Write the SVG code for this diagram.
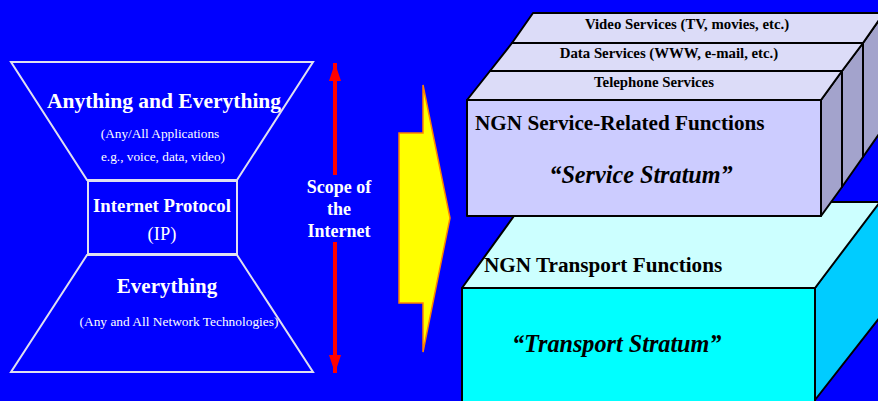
<svg xmlns="http://www.w3.org/2000/svg" width="878" height="401" viewBox="0 0 878 401">
<style>
text{font-family:'Liberation Serif','Times New Roman',Times,serif}
.w{fill:#fff;text-anchor:middle}
.b{font-weight:bold}
.k{fill:#000;font-weight:bold}
.hg{fill:none;stroke:#e0e0f0;stroke-width:2}
.edge{stroke:#000;stroke-width:2;stroke-linejoin:round}
</style>
<defs>
<marker id="rh" viewBox="0 0 18 12" refX="18" refY="6" markerWidth="18" markerHeight="12" markerUnits="userSpaceOnUse" orient="auto"><path d="M0,0 L18,6 L0,12 Z" fill="#ff0000"/></marker>
</defs>
<rect width="878" height="401" fill="#0000ff"/>
<g id="hourglass">
<path class="hg" d="M11,62 L313,62 L237,180 L87,180 Z"/>
<rect class="hg" x="88" y="181" width="149" height="73"/>
<path class="hg" d="M87,255 L237,255 L313,372 L11,372 Z"/>
<text class="w b" x="164" y="108" font-size="21.5">Anything and Everything</text>
<text class="w" x="160" y="138" font-size="13.3">(Any/All Applications</text>
<text class="w" x="163" y="161" font-size="13.3">e.g., voice, data, video)</text>
<text class="w b" x="162" y="212" font-size="18.8">Internet Protocol</text>
<text class="w" x="162" y="240" font-size="18.5">(IP)</text>
<text class="w b" x="167" y="293" font-size="21">Everything</text>
<text class="w" x="179" y="326" font-size="13.4">(Any and All Network Technologies)</text>
</g>
<g id="connectors">
<line x1="335" y1="175" x2="335" y2="63" stroke="#ff0000" stroke-width="4" marker-end="url(#rh)"/>
<line x1="335" y1="242" x2="335" y2="373" stroke="#ff0000" stroke-width="4" marker-end="url(#rh)"/>
<path d="M399,133 L423,133 L423,85 L450,218 L423,352 L423,303 L399,303 Z" fill="#ffff00" stroke="#ff8000" stroke-width="1.5"/>
</g>
<g id="scope">
<text class="w b" x="339" y="193" font-size="18">Scope of</text>
<text class="w b" x="339" y="215" font-size="18">the</text>
<text class="w b" x="339" y="237" font-size="18">Internet</text>
</g>
<g id="transport">
<path class="edge" d="M815,288 L877,202 L880,202 L880,317 L815,400 Z" fill="#00ccff"/>
<path class="edge" d="M462,288 L524,202 L880,202 L815,288 Z" fill="#ccffff"/>
<rect class="edge" x="462" y="288" width="353" height="114" fill="#00ffff"/>
<text class="k" x="484" y="272" font-size="21.2">NGN Transport Functions</text>
<text class="k" x="512" y="352" font-size="24.2" font-style="italic">“Transport Stratum”</text>
</g>
<g id="video">
<path class="edge" d="M863,43 L884,13 L884,127 L863,157 Z" fill="#a3a3cc"/>
<path class="edge" d="M512,43 L533,13 L884,13 L863,43 Z" fill="#dcdcf8"/>
<text class="k" x="687" y="29" font-size="14.8" text-anchor="middle">Video Services (TV, movies, etc.)</text>
</g>
<g id="data">
<path class="edge" d="M842,71 L863,43 L863,157 L842,187 Z" fill="#a3a3cc"/>
<path class="edge" d="M490,71 L512,43 L863,43 L842,71 Z" fill="#dcdcf8"/>
<text class="k" x="669" y="58" font-size="14.8" text-anchor="middle">Data Services (WWW, e-mail, etc.)</text>
</g>
<g id="service">
<path class="edge" d="M821,100 L842,71 L842,187 L821,216 Z" fill="#a3a3cc"/>
<path class="edge" d="M467,100 L490,71 L842,71 L821,100 Z" fill="#dcdcf8"/>
<rect class="edge" x="467" y="100" width="354" height="116" fill="#ccccff"/>
<text class="k" x="654" y="87" font-size="14.8" text-anchor="middle">Telephone Services</text>
<text class="k" x="475" y="130" font-size="21.2">NGN Service-Related Functions</text>
<text class="k" x="641" y="183" font-size="24.2" font-style="italic" text-anchor="middle">“Service Stratum”</text>
</g>
</svg>
